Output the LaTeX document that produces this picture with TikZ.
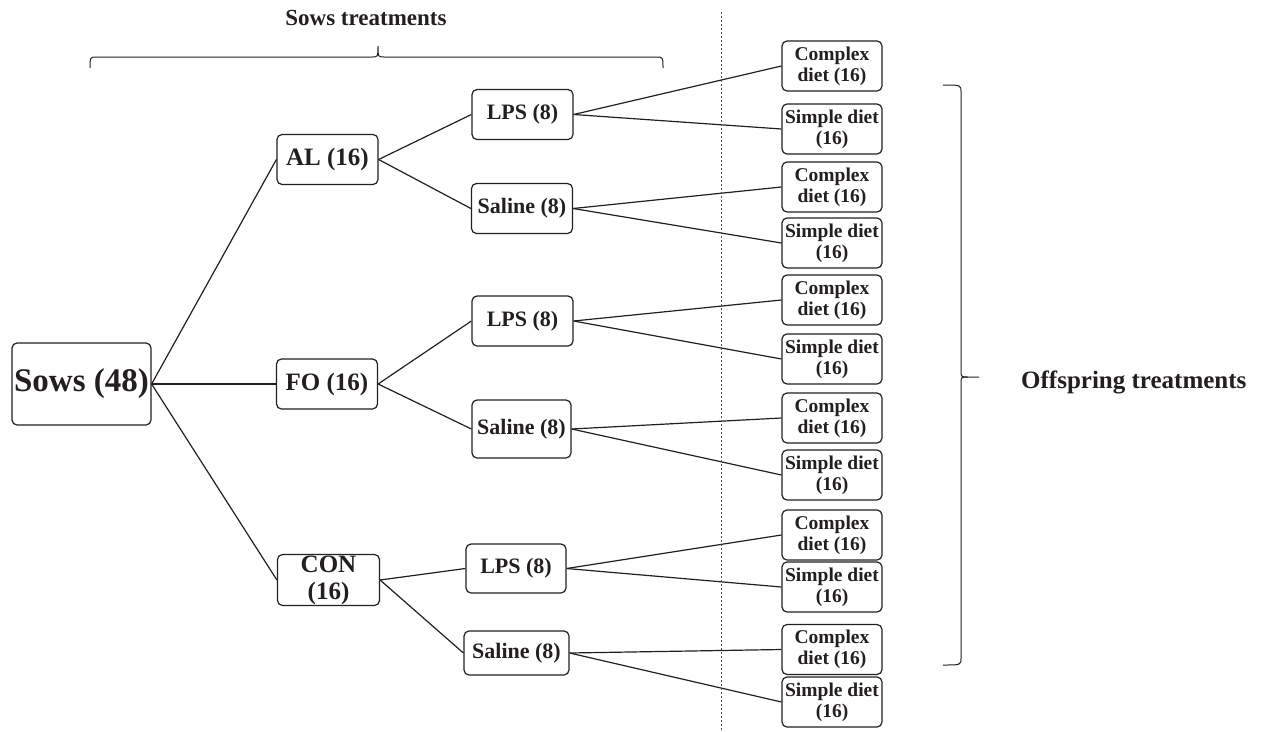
\documentclass[tikz,border=0pt]{standalone}
\usepackage{fontspec}
\setmainfont{Liberation Serif}
\definecolor{ln}{HTML}{231F20}
\begin{document}
\begin{tikzpicture}[x=1pt,y=-1pt,
  box/.style={draw=ln, rounded corners=5pt, line width=1.2pt, inner sep=0pt, align=center, text=ln},
  big/.style={box, font=\fontsize{33}{36}\selectfont\bfseries},
  lone/.style={box, minimum width=101pt, minimum height=50pt, font=\fontsize{25}{28}\selectfont\bfseries},
  ltwo/.style={box, minimum width=101pt, minimum height=50pt, font=\fontsize{22}{24}\selectfont\bfseries},
  leaf/.style={box, minimum width=100pt, minimum height=50pt, font=\fontsize{19.5}{21}\selectfont\bfseries},
  conn/.style={draw=ln, line width=1.2pt},
  lbl/.style={text=ln, inner sep=0pt}
]
\useasboundingbox (0,0) rectangle (1263,731);

% main nodes
\node[big, minimum width=139pt, minimum height=82pt] (sows) at (81.5,384) {Sows (48)};
\node[lone] (al) at (327.5,159.5) {AL (16)};
\node[lone] (fo) at (327,384) {FO (16)};
\node[lone, minimum width=102pt, minimum height=51pt, font=\fontsize{25}{27}\selectfont\bfseries] (con) at (328.5,580) {CON\\(16)};

\node[ltwo] (lps1) at (522.5,114.5) {LPS (8)};
\node[ltwo] (sal1) at (522,208.5) {Saline (8)};
\node[ltwo] (lps2) at (522.5,321) {LPS (8)};
\node[ltwo, minimum width=99pt, minimum height=58pt] (sal2) at (521.5,429) {Saline (8)};
\node[ltwo, minimum width=100pt, minimum height=49pt] (lps3) at (516,568.5) {LPS (8)};
\node[ltwo, minimum width=105pt, minimum height=44pt] (sal3) at (516.5,653) {Saline (8)};

% leaves
\node[leaf] (c1) at (832,66) {Complex\\diet (16)};
\node[leaf] (s1) at (832,129) {Simple diet\\(16)};
\node[leaf] (c2) at (832,187) {Complex\\diet (16)};
\node[leaf] (s2) at (832,243) {Simple diet\\(16)};
\node[leaf] (c3) at (832,300) {Complex\\diet (16)};
\node[leaf] (s3) at (832,359) {Simple diet\\(16)};
\node[leaf] (c4) at (832,418) {Complex\\diet (16)};
\node[leaf] (s4) at (832,475) {Simple diet\\(16)};
\node[leaf] (c5) at (832,535) {Complex\\diet (16)};
\node[leaf] (s5) at (832,587) {Simple diet\\(16)};
\node[leaf] (c6) at (832,649.5) {Complex\\diet (16)};
\node[leaf] (s6) at (832,702) {Simple diet\\(16)};

% connectors
\foreach \a/\b in {sows/al, sows/fo, sows/con, al/lps1, al/sal1, fo/lps2, fo/sal2, con/lps3, con/sal3,
  lps1/c1, lps1/s1, sal1/c2, sal1/s2, lps2/c3, lps2/s3, sal2/c4, sal2/s4, lps3/c5, lps3/s5, sal3/c6, sal3/s6}
  \draw[conn] (\a.east) -- (\b.west);

% dotted divider
\coordinate (dtop) at (721,12);
\coordinate (dbot) at (721,731);
\draw[draw=ln!80, line width=1pt, dash pattern=on 2pt off 2pt] (dtop) -- (dbot);

% top brace and label
\node[lbl, font=\fontsize{23}{25}\selectfont\bfseries] (sowsT) at (366,18) {Sows treatments};
\draw[draw=ln, line width=1pt] (90,68) .. controls (90,57) .. (97,57) -- (372,57) .. controls (378,57) .. (378,46)
  .. controls (378,57) .. (384,57) -- (656,57) .. controls (663,57) .. (663,68);

% right brace and label
\node[lbl, font=\fontsize{25}{27}\selectfont\bfseries, anchor=west] (offT) at (1021,382) {Offspring treatments};
\draw[draw=ln, line width=1pt] (943,85) .. controls (961,85) .. (961,92) -- (961,370) .. controls (961,377) .. (968,377) -- (979,377);
\draw[draw=ln, line width=1pt] (968,377) .. controls (961,377) .. (961,384) -- (961,658) .. controls (961,665) .. (943,665);
\end{tikzpicture}
\end{document}
